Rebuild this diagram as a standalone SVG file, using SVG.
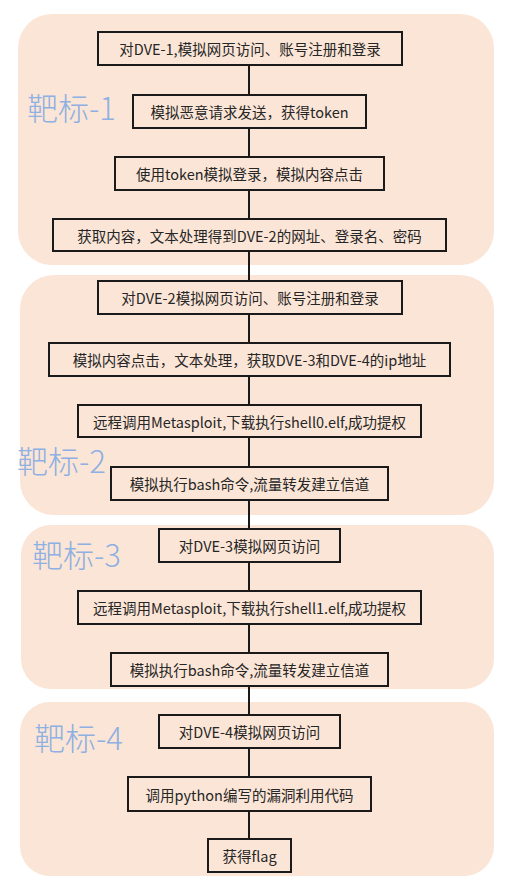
<svg xmlns="http://www.w3.org/2000/svg" width="530" height="887" viewBox="0 0 530 887">
<style>
.panel{fill:#fbe5d6;stroke:none}
.box{fill:#fbe5d6;stroke:#1a1a1a;stroke-width:2}
.t{font-family:"Noto Sans CJK SC","Noto Sans",sans-serif;font-size:14.5px;fill:#262626;text-anchor:middle;dominant-baseline:central}
.lbl{font-family:"Noto Sans CJK SC","Noto Sans",sans-serif;font-size:31px;fill:#8eb0e2;font-weight:300}
.c{stroke:#1a1a1a;stroke-width:2;fill:none}
</style>
<rect width="530" height="887" fill="#ffffff"/>
<g id="panels">
<rect id="panel1" class="panel" x="18" y="14" width="476" height="251" rx="34"/>
<rect id="panel2" class="panel" x="20" y="275" width="474" height="240" rx="34"/>
<rect id="panel3" class="panel" x="21" y="525" width="473" height="164" rx="30"/>
<rect id="panel4" class="panel" x="20" y="702" width="474" height="174" rx="30"/>
</g>
<g id="connectors">
<line class="c" x1="249" y1="65" x2="249" y2="95"/>
<line class="c" x1="249" y1="128" x2="249" y2="157"/>
<line class="c" x1="249" y1="190" x2="249" y2="219"/>
<line class="c" x1="249" y1="251" x2="249" y2="281"/>
<line class="c" x1="249" y1="314" x2="249" y2="343"/>
<line class="c" x1="249" y1="376" x2="249" y2="405"/>
<line class="c" x1="249" y1="437" x2="249" y2="467"/>
<line class="c" x1="249" y1="500" x2="249" y2="529"/>
<line class="c" x1="249" y1="562" x2="249" y2="591"/>
<line class="c" x1="249" y1="624" x2="249" y2="653"/>
<line class="c" x1="249" y1="686" x2="249" y2="715"/>
<line class="c" x1="249" y1="748" x2="249" y2="777"/>
<line class="c" x1="249" y1="811" x2="249" y2="839"/>
</g>
<g id="labels">
<text class="lbl" x="27" y="120">靶标-1</text>
<text class="lbl" x="17" y="473">靶标-2</text>
<text class="lbl" x="32" y="567">靶标-3</text>
<text class="lbl" x="34" y="750">靶标-4</text>
</g>
<g id="n1"><rect class="box" x="98" y="32" width="304" height="33"/><text class="t" x="250" y="48.5">对DVE-1,模拟网页访问、账号注册和登录</text></g>
<g id="n2"><rect class="box" x="133" y="95" width="233" height="33"/><text class="t" x="249.5" y="111.5">模拟恶意请求发送，获得token</text></g>
<g id="n3"><rect class="box" x="115" y="157" width="269" height="33"/><text class="t" x="249.5" y="173.5">使用token模拟登录，模拟内容点击</text></g>
<g id="n4"><rect class="box" x="53" y="219" width="393" height="32"/><text class="t" x="249.5" y="235">获取内容，文本处理得到DVE-2的网址、登录名、密码</text></g>
<g id="n5"><rect class="box" x="98" y="281" width="304" height="33"/><text class="t" x="250" y="297.5">对DVE-2模拟网页访问、账号注册和登录</text></g>
<g id="n6"><rect class="box" x="49" y="343" width="401" height="33"/><text class="t" x="249.5" y="359.5">模拟内容点击，文本处理，获取DVE-3和DVE-4的ip地址</text></g>
<g id="n7"><rect class="box" x="78" y="405" width="343" height="32"/><text class="t" x="249.5" y="421">远程调用Metasploit,下载执行shell0.elf,成功提权</text></g>
<g id="n8"><rect class="box" x="111" y="467" width="277" height="33"/><text class="t" x="249.5" y="483.5">模拟执行bash命令,流量转发建立信道</text></g>
<g id="n9"><rect class="box" x="159" y="529" width="181" height="33"/><text class="t" x="249.5" y="545.5">对DVE-3模拟网页访问</text></g>
<g id="n10"><rect class="box" x="78" y="591" width="343" height="33"/><text class="t" x="249.5" y="607.5">远程调用Metasploit,下载执行shell1.elf,成功提权</text></g>
<g id="n11"><rect class="box" x="111" y="653" width="277" height="33"/><text class="t" x="249.5" y="669.5">模拟执行bash命令,流量转发建立信道</text></g>
<g id="n12"><rect class="box" x="159" y="715" width="181" height="33"/><text class="t" x="249.5" y="731.5">对DVE-4模拟网页访问</text></g>
<g id="n13"><rect class="box" x="128" y="777" width="243" height="34"/><text class="t" x="249.5" y="794">调用python编写的漏洞利用代码</text></g>
<g id="n14"><rect class="box" x="208" y="839" width="83" height="33"/><text class="t" x="249.5" y="855.5">获得flag</text></g>
</svg>
